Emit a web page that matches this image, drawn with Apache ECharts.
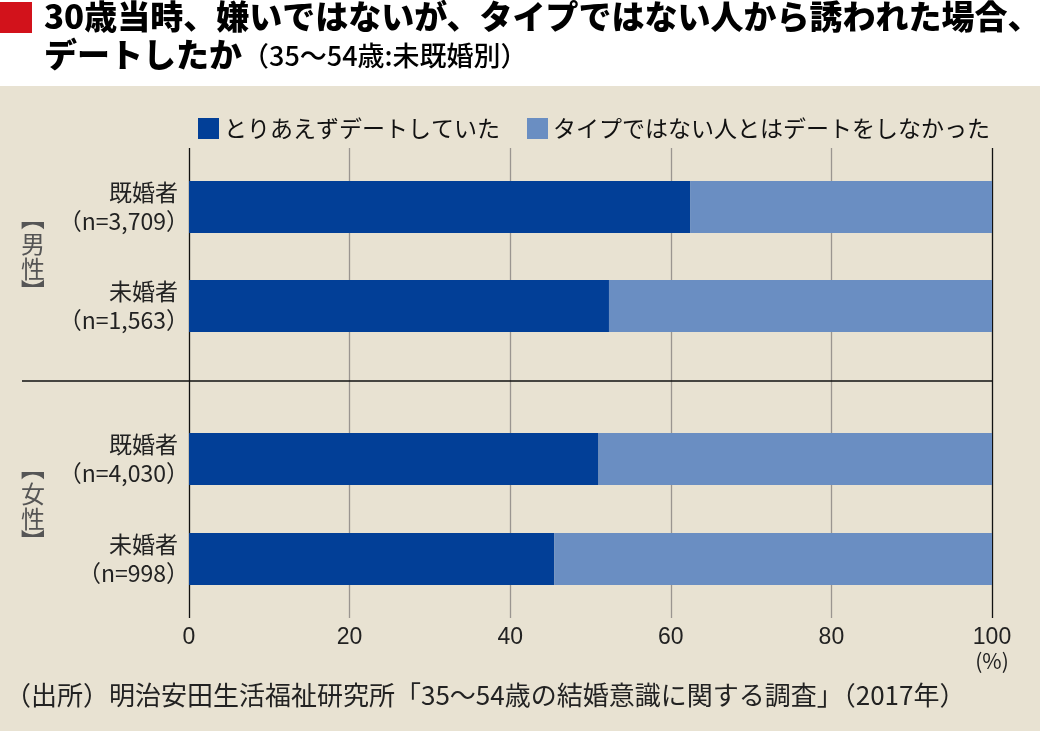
<!DOCTYPE html>
<html>
<head>
<meta charset="utf-8">
<script src="https://cdn.jsdelivr.net/npm/echarts@6/dist/echarts.min.js"></script>
<style>
  html, body { margin: 0; padding: 0; background: #fff; }
  #chart { width: 1040px; height: 731px; }
</style>
</head>
<body>
<div id="chart"></div>
<script>
// data
const maleCats = ['既婚者|（n=3,709）', '未婚者|（n=1,563）'];
const femaleCats = ['既婚者|（n=4,030）', '未婚者|（n=998）'];
const seriesNames = ['とりあえずデートしていた', 'タイプではない人とはデートをしなかった'];
const maleDated = [62.4, 52.3];
const maleNot = [37.6, 47.7];
const femaleDated = [51.0, 45.5];
const femaleNot = [49.0, 54.5];
const xTicks = [0, 20, 40, 60, 80, 100];

const FONT = '"Noto Sans CJK JP", "Noto Sans", sans-serif';
const dark = '#023f97';
const light = '#6a8ec2';

const chart = echarts.init(document.getElementById('chart'));

let barAxisX = (idx) => ({
  type: 'value', gridIndex: idx, min: 0, max: 100, interval: 20,
  show: false
});
let catAxisY = (idx, cats) => ({
  type: 'category', gridIndex: idx, data: cats, inverse: true,
  axisLine: { show: false }, axisTick: { show: false },
  axisLabel: {
    margin: 0, color: '#222', align: 'right',
    formatter: (v) => {
      const p = v.split('|');
      return '{a|' + p[0] + '}\n{b|' + p[1] + '}';
    },
    rich: {
      a: { fontSize: 23, lineHeight: 29, fontFamily: FONT, color: '#222', padding: [0, 11, 0, 0] },
      b: { fontSize: 23, lineHeight: 29, fontFamily: FONT, color: '#222' }
    }
  }
});
let barSeries = (name, color, idx, data) => ({
  name: name, type: 'bar', stack: 'g' + idx,
  xAxisIndex: idx, yAxisIndex: idx,
  barWidth: 52, itemStyle: { color: color },
  data: data, silent: true
});

// vertical group label: brackets turned, characters upright
let groupLabel = (ch1, ch2, cy) => {
  const st = { font: '24px ' + FONT, fill: '#555', align: 'center', verticalAlign: 'middle' };
  return [
    { type: 'text', x: 33, y: cy - 38, rotation: -Math.PI / 2, style: Object.assign({ text: '【' }, st) },
    { type: 'text', x: 33, y: cy - 12, style: Object.assign({ text: ch1 }, st) },
    { type: 'text', x: 33, y: cy + 13, style: Object.assign({ text: ch2 }, st) },
    { type: 'text', x: 33, y: cy + 35, rotation: -Math.PI / 2, style: Object.assign({ text: '】' }, st) }
  ];
};

let option = {
  backgroundColor: '#ffffff',
  animation: false,
  legend: {
    left: 193, top: 112,
    itemWidth: 21, itemHeight: 21, itemGap: 27,
    icon: 'rect',
    textStyle: { fontSize: 23, color: '#111', fontFamily: FONT },
    data: seriesNames
  },
  grid: [
    { left: 189, right: 48, top: 148, height: 470 },
    { left: 189, right: 48, top: 157.5, height: 198 },
    { left: 189, right: 48, top: 409, height: 200 }
  ],
  xAxis: [
    {
      type: 'value', gridIndex: 0, min: 0, max: 100, interval: 20,
      axisLine: { show: false }, axisTick: { show: false },
      splitLine: {
        show: true,
        lineStyle: { color: ['#111', '#9a9590', '#9a9590', '#9a9590', '#9a9590', '#111'], width: 1.3 }
      },
      axisLabel: {
        margin: 8, fontSize: 23, color: '#222',
        fontFamily: '"Liberation Sans Narrow", "Liberation Sans", sans-serif',
        formatter: (v) => xTicks.includes(v) ? String(v) : ''
      }
    },
    barAxisX(1),
    barAxisX(2)
  ],
  yAxis: [
    { type: 'value', gridIndex: 0, show: false },
    catAxisY(1, maleCats),
    catAxisY(2, femaleCats)
  ],
  series: [
    barSeries(seriesNames[0], dark, 1, maleDated),
    barSeries(seriesNames[1], light, 1, maleNot),
    barSeries(seriesNames[0], dark, 2, femaleDated),
    barSeries(seriesNames[1], light, 2, femaleNot)
  ],
  graphic: [
    { type: 'rect', z: -10, shape: { x: 0, y: 86, width: 1040, height: 645 }, style: { fill: '#e8e2d2' } },
    { type: 'rect', shape: { x: 0, y: 2, width: 32, height: 31 }, style: { fill: '#d2121b' } },
    {
      type: 'text', left: 44, top: 0,
      style: {
        text: '30歳当時、嫌いではないが、タイプではない人から誘われた場合、',
        font: '900 33px ' + FONT, fill: '#000'
      }
    },
    {
      type: 'text', left: 44, top: 38,
      style: {
        text: '{b|デートしたか}{s|（35〜54歳:未既婚別）}',
        rich: {
          b: { font: '900 33px ' + FONT, fill: '#000' },
          s: { font: '500 27px ' + FONT, fill: '#000', padding: [3, 0, 0, 0] }
        }
      }
    },
    {
      type: 'line', z: 5,
      shape: { x1: 22, y1: 381, x2: 992, y2: 381 },
      style: { stroke: '#111', lineWidth: 1.3 }
    },
    ...groupLabel('男', '性', 256),
    ...groupLabel('女', '性', 506),
    {
      type: 'text', x: 992, y: 661,
      style: {
        text: '(%)', font: '21px ' + FONT, fill: '#222',
        align: 'center', verticalAlign: 'middle'
      }
    },
    {
      type: 'text', x: 5, y: 695,
      style: {
        text: '（出所）明治安田生活福祉研究所「35〜54歳の結婚意識に関する調査」（2017年）',
        font: '26px ' + FONT, fill: '#222', verticalAlign: 'middle'
      }
    }
  ]
};

chart.setOption(option);
</script>
</body>
</html>
